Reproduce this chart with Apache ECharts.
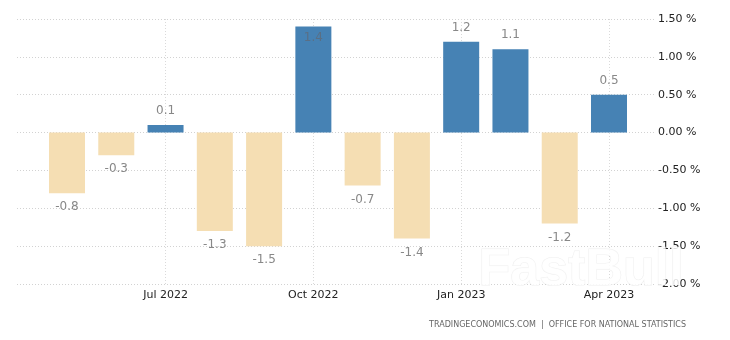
<!DOCTYPE html>
<html>
<head>
<meta charset="utf-8">
<script src="https://cdn.jsdelivr.net/npm/echarts@6/dist/echarts.min.js"></script>
<style>
  html, body { margin: 0; padding: 0; background: #fff; }
  #chart { width: 730px; height: 340px; }
</style>
</head>
<body>
<div id="chart"></div>
<script>
// Monthly change, percent
const months = ['May 2022', 'Jun 2022', 'Jul 2022', 'Aug 2022', 'Sep 2022', 'Oct 2022',
                'Nov 2022', 'Dec 2022', 'Jan 2023', 'Feb 2023', 'Mar 2023', 'Apr 2023'];
const changes = [-0.8, -0.3, 0.1, -1.3, -1.5, 1.4, -0.7, -1.4, 1.2, 1.1, -1.2, 0.5];
const yTicks = [-2.0, -1.5, -1.0, -0.5, 0.0, 0.5, 1.0, 1.5];
const labelledMonths = ['Jul 2022', 'Oct 2022', 'Jan 2023', 'Apr 2023'];

const POS = '#4682B4';
const NEG = '#F5DEB3';
const yMin = yTicks[0], yMax = yTicks[yTicks.length - 1], yStep = yTicks[1] - yTicks[0];

const showMonth = (i) => labelledMonths.indexOf(months[i]) >= 0;

const chart = echarts.init(document.getElementById('chart'), null, { renderer: 'canvas' });
chart.setOption({
  animation: false,
  backgroundColor: '#fff',
  textStyle: { fontFamily: 'DejaVu Sans, Arial, sans-serif' },
  grid: [
    { left: 17, right: 75, top: 19, bottom: 56 },
    { left: 67, right: 121, top: 19, bottom: 56 }
  ],
  xAxis: [
    { gridIndex: 0, type: 'value', show: false, min: 0, max: 1 },
    {
      gridIndex: 1, type: 'category', data: months, boundaryGap: false,
      axisLine: { show: false }, axisTick: { show: false },
      axisLabel: {
        interval: (i) => showMonth(i), color: '#222', fontSize: 11, margin: 6,
        fontFamily: 'DejaVu Sans, Arial, sans-serif'
      },
      splitLine: {
        show: true, interval: (i) => showMonth(i),
        lineStyle: { color: '#dadada', type: [1, 2], width: 1 }
      }
    }
  ],
  yAxis: [
    {
      gridIndex: 0, type: 'value', position: 'right', min: yMin, max: yMax, interval: yStep,
      axisLine: { show: false }, axisTick: { show: false },
      axisLabel: {
        margin: 3, color: '#222', fontSize: 11,
        formatter: (v) => v.toFixed(2) + ' %'
      },
      splitLine: { lineStyle: { color: '#d2d2d2', type: [1, 2], width: 1 } }
    },
    { gridIndex: 1, type: 'value', min: yMin, max: yMax, interval: yStep, show: false }
  ],
  series: [{
    type: 'bar',
    xAxisIndex: 1, yAxisIndex: 1,
    clip: false,
    barWidth: 36,
    data: changes.map((v) => {
      const top = v + 0.25 > yMax;
      return {
        value: v,
        itemStyle: { color: v >= 0 ? POS : NEG },
        label: {
          show: true,
          position: top ? 'insideTop' : (v >= 0 ? 'top' : 'bottom'),
          distance: top ? 5 : 8,
          color: top ? '#5a6f85' : '#888',
          fontSize: 12,
          formatter: () => v.toFixed(1)
        }
      };
    })
  }],
  graphic: [
    {
      type: 'text', left: 478, top: 244, silent: true, z: 10,
      style: {
        text: 'FastBull', font: 'bold 52px "Liberation Sans", Arial, sans-serif',
        fill: 'rgba(255,255,255,0.85)', stroke: 'rgba(210,210,210,0.35)', lineWidth: 1,
        shadowColor: 'rgba(0,0,0,0.07)', shadowBlur: 5
      }
    },
    {
      type: 'text', right: 44, top: 321,
      style: {
        text: 'TRADINGECONOMICS.COM  |  OFFICE FOR NATIONAL STATISTICS',
        font: '8px "DejaVu Sans", Arial, sans-serif', fill: '#666'
      }
    }
  ]
});
</script>
</body>
</html>
